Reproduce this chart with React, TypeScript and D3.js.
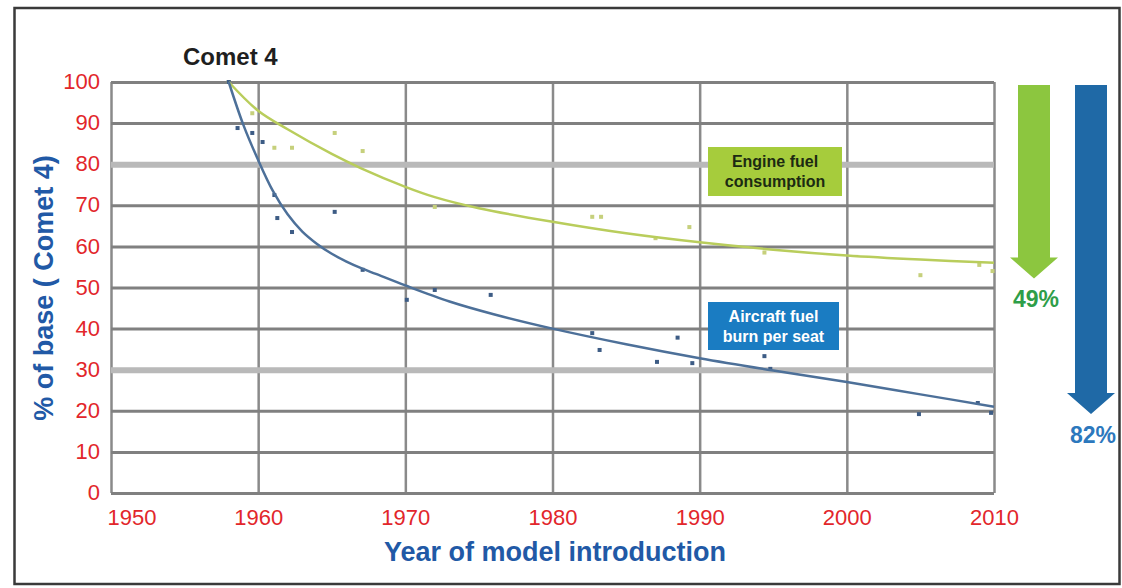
import { useEffect, useRef } from "react";
import * as d3 from "d3";

// Scatter points: [year, % of Comet 4]
const burnPoints: [number, number][] = [
  [1958, 100], [1958.6, 88.8], [1959.6, 87.6], [1960.3, 85.4], [1961.1, 72.5],
  [1961.3, 66.9], [1962.3, 63.5], [1965.2, 68.4], [1967.1, 54.3], [1970.1, 47],
  [1972, 49.4], [1975.8, 48.2], [1982.7, 38.9], [1983.2, 34.8], [1987.1, 31.9],
  [1988.5, 37.8], [1989.5, 31.6], [1994.4, 33.3], [1994.8, 30.2], [2004.9, 19.2],
  [2008.9, 21.9], [2009.8, 19.5],
];

const enginePoints: [number, number][] = [
  [1958, 100], [1959.6, 92.4], [1961.1, 84], [1962.3, 84], [1965.2, 87.6],
  [1967.1, 83.2], [1972, 69.6], [1982.7, 67.2], [1983.3, 67.2], [1987, 62],
  [1989.3, 64.7], [1994.4, 58.5], [2005, 53], [2009, 55.5], [2009.9, 54],
];

// Fitted trend curves
const burnTrend: [number, number][] = [
  [1958, 100], [1959, 89.5], [1960, 81], [1961, 73.5], [1962, 67.8], [1963, 63.6],
  [1964, 60.6], [1965, 58.2], [1966, 56.3], [1967, 54.7], [1968, 53.3], [1970, 50.5],
  [1973, 46.6], [1976, 43.5], [1980, 40], [1985, 36.2], [1990, 32.8], [1995, 29.8],
  [2000, 27], [2005, 24], [2010, 21],
];

const engineTrend: [number, number][] = [
  [1958, 100], [1960, 93], [1962, 88.5], [1965, 82.5], [1967, 79], [1970, 74.5],
  [1972, 72], [1975, 69.3], [1980, 66], [1985, 63.2], [1990, 61], [1995, 59.2],
  [2000, 57.8], [2005, 56.8], [2010, 56],
];

const yearTicks = [1950, 1960, 1970, 1980, 1990, 2000, 2010];
const pctTicks = [0, 10, 20, 30, 40, 50, 60, 70, 80, 90, 100];
const bandTicks = [80, 30];

// reductions shown by the arrows on the right
const reductions = [
  { label: "49%", pct: 49, color: "#8cc63f", text: "#2e9e48" },
  { label: "82%", pct: 82, color: "#1f69a6", text: "#2c78bd" },
];

const W = 1122;
const H = 588;
const FONT = "'Liberation Sans', Arial, sans-serif";

export default function App() {
  const svgRef = useRef<SVGSVGElement>(null);

  useEffect(() => {
    if (!svgRef.current) return;
    const svg = d3.select(svgRef.current);
    svg.selectAll("*").remove();

    const margin = { top: 82, right: W - 994, bottom: H - 493, left: 111 };
    const innerWidth = W - margin.left - margin.right;
    const innerHeight = H - margin.top - margin.bottom;

    svg.append("rect").attr("width", W).attr("height", H).attr("fill", "#fff");

    // outer frame
    svg.append("rect")
      .attr("x", 14.5).attr("y", 8)
      .attr("width", 1105).attr("height", 576)
      .attr("fill", "none")
      .attr("stroke", "#3a3a3a")
      .attr("stroke-width", 2.5);

    const g = svg.append("g")
      .attr("transform", `translate(${margin.left},${margin.top})`);

    const x = d3.scaleLinear().domain([1950, 2010]).range([0, innerWidth]);
    const y = d3.scaleLinear().domain([0, 100]).range([innerHeight, 0]);

    // vertical grid
    const xGrid = g.append("g")
      .attr("transform", `translate(0,${innerHeight})`)
      .call(d3.axisBottom(x).tickValues(yearTicks).tickSize(-innerHeight).tickFormat(() => ""));
    xGrid.select(".domain").remove();
    xGrid.selectAll(".tick line")
      .attr("stroke", "#8a8a8a")
      .attr("stroke-width", 2.5);

    // horizontal grid
    const yGrid = g.append("g")
      .call(d3.axisLeft(y).tickValues(pctTicks).tickSize(-innerWidth).tickFormat(() => ""));
    yGrid.select(".domain").remove();
    yGrid.selectAll<SVGGElement, number>(".tick line")
      .attr("stroke", d => (bandTicks.includes(d) ? "#b9b9b9" : "#808080"))
      .attr("stroke-width", d => (bandTicks.includes(d) ? 6 : 3));

    // tick labels
    const yAxis = g.append("g")
      .call(d3.axisLeft(y).tickValues(pctTicks).tickSize(0).tickPadding(11));
    yAxis.select(".domain").remove();
    yAxis.selectAll("text")
      .attr("fill", "#e2262b")
      .attr("font-family", FONT)
      .attr("font-size", "22px")
      .attr("dy", "0.3em");

    const xAxis = g.append("g")
      .attr("transform", `translate(0,${innerHeight})`)
      .call(d3.axisBottom(x).tickValues(yearTicks).tickSize(0).tickPadding(16).tickFormat(d3.format("d")));
    xAxis.select(".domain").remove();
    xAxis.selectAll<SVGTextElement, number>("text")
      .attr("fill", "#e2262b")
      .attr("font-family", FONT)
      .attr("font-size", "22px")
      .attr("text-anchor", d => (d === 1950 ? "start" : "middle"))
      .attr("x", d => (d === 1950 ? -4 : 0));

    // axis titles
    svg.append("text")
      .attr("x", 555).attr("y", 561)
      .attr("text-anchor", "middle")
      .attr("fill", "#2159a6")
      .attr("font-family", FONT)
      .attr("font-weight", "bold")
      .attr("font-size", "27px")
      .text("Year of model introduction");

    svg.append("text")
      .attr("transform", "translate(53,288) rotate(-90)")
      .attr("text-anchor", "middle")
      .attr("fill", "#2159a6")
      .attr("font-family", FONT)
      .attr("font-weight", "bold")
      .attr("font-size", "27px")
      .text("% of base ( Comet 4)");

    svg.append("text")
      .attr("x", 183).attr("y", 65)
      .attr("fill", "#1f1f1f")
      .attr("font-family", FONT)
      .attr("font-weight", "bold")
      .attr("font-size", "24px")
      .text("Comet 4");

    const line = d3.line<[number, number]>()
      .x(d => x(d[0]))
      .y(d => y(d[1]))
      .curve(d3.curveCatmullRom.alpha(0.5));

    // scatter
    const drawPoints = (pts: [number, number][], color: string) => {
      g.append("g")
        .selectAll("rect")
        .data(pts)
        .join("rect")
        .attr("x", d => x(d[0]) - 2)
        .attr("y", d => y(d[1]) - 2)
        .attr("width", 4)
        .attr("height", 4)
        .attr("fill", color);
    };
    drawPoints(enginePoints, "#c6d07c");
    drawPoints(burnPoints, "#3d5c85");

    // trend lines
    g.append("path")
      .datum(engineTrend)
      .attr("fill", "none")
      .attr("stroke", "#b9cd5c")
      .attr("stroke-width", 2.5)
      .attr("d", line);

    g.append("path")
      .datum(burnTrend)
      .attr("fill", "none")
      .attr("stroke", "#4d7099")
      .attr("stroke-width", 2.5)
      .attr("d", line);

    // label boxes
    const boxes = [
      { lines: ["Engine fuel", "consumption"], x0: 708, y0: 147, w: 134, h: 49, fill: "#a6cc3c", text: "#1c2a12" },
      { lines: ["Aircraft fuel", "burn per seat"], x0: 708, y0: 302, w: 131, h: 48, fill: "#1a7cc2", text: "#ffffff" },
    ];
    boxes.forEach(b => {
      svg.append("rect")
        .attr("x", b.x0).attr("y", b.y0)
        .attr("width", b.w).attr("height", b.h)
        .attr("fill", b.fill);
      b.lines.forEach((t, i) => {
        svg.append("text")
          .attr("x", b.x0 + b.w / 2)
          .attr("y", b.y0 + 20 + i * 20)
          .attr("text-anchor", "middle")
          .attr("fill", b.text)
          .attr("font-family", FONT)
          .attr("font-weight", "bold")
          .attr("font-size", "16px")
          .text(t);
      });
    });

    // reduction arrows
    const arrowX = [1034, 1091];
    reductions.forEach((r, i) => {
      const cx = arrowX[i];
      const top = margin.top + y(100) + 3;
      const tip = margin.top + y(100 - r.pct) - 5;
      const headTop = tip - 21;
      const path = d3.path();
      path.moveTo(cx - 16, top);
      path.lineTo(cx + 16, top);
      path.lineTo(cx + 16, headTop);
      path.lineTo(cx + 24, headTop);
      path.lineTo(cx, tip);
      path.lineTo(cx - 24, headTop);
      path.lineTo(cx - 16, headTop);
      path.closePath();
      svg.append("path")
        .attr("d", path.toString())
        .attr("fill", r.color);
      svg.append("text")
        .attr("x", cx + 2)
        .attr("y", tip + 29)
        .attr("text-anchor", "middle")
        .attr("fill", r.text)
        .attr("font-family", FONT)
        .attr("font-weight", "bold")
        .attr("font-size", "23px")
        .text(r.label);
    });
  }, []);

  return (
    <svg
      ref={svgRef}
      width={W}
      height={H}
      viewBox={`0 0 ${W} ${H}`}
      style={{ position: "absolute", left: 0, top: 0, display: "block" }}
    />
  );
}
